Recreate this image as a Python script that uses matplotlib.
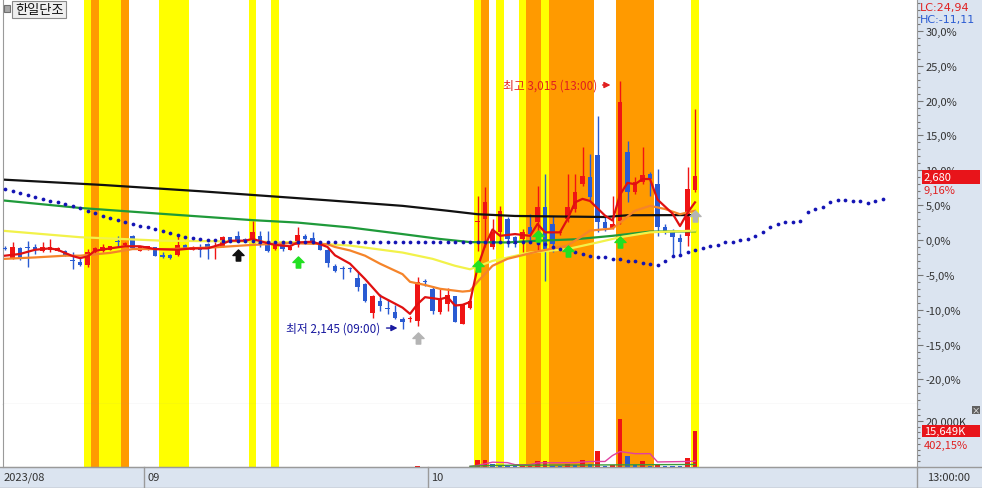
import matplotlib.pyplot as plt
from matplotlib.patches import Rectangle
from matplotlib.lines import Line2D
from matplotlib.path import Path
from matplotlib.ticker import MultipleLocator

plt.rcParams['font.family'] = ['Noto Sans CJK KR', 'DejaVu Sans']

# 캔들 데이터 (기준가 대비 %)
opens = [-1.15, -2.63, -1.20, -1.00, -1.05, -1.53, -1.39, -1.53, -1.53, -2.80,
         -3.11, -3.59, -1.77, -1.53, -1.39, -0.10, -0.72, 0.62, -1.53, -1.39,
         -1.05, -2.10, -2.15, -2.15, -0.72, -1.39, -1.05, -0.57, -1.20, -0.81,
         0.38, 0.62, 0.14, 0.14, 0.53, -0.10, -1.29, -0.57, -1.39, -0.72,
         0.62, 0.24, -0.72, -1.40, -3.68, -4.00, -4.00, -5.50, -6.31, -10.47,
         -8.70, -9.80, -10.28, -11.33, -11.30, -11.57, -5.90, -7.03, -10.38, -9.18,
         -8.08, -12.05, -9.80, 2.60, 3.01, -1.05, 1.10, 3.01, 0.38, 0.14,
         1.82, 2.53, 4.69, 2.30, 1.00, 3.01, 4.45, 8.03, 8.99, 12.20,
         2.53, 1.67, 2.77, 12.58, 6.84, 8.27, 9.47, 8.03, 1.82, 1.10,
         0.24, 0.62, 7.22]
highs = [-0.91, -0.24, -1.05, -0.10, -0.57, -0.33, 0.14, -1.00, -1.40, -1.77,
         -2.49, -1.29, -1.05, -0.57, -0.80, 0.62, -0.30, 0.72, -0.80, -0.80,
         -1.00, -1.77, -2.00, 0.72, -0.60, -0.90, -0.57, -0.50, -0.33, 0.62,
         0.50, 1.34, 0.30, 2.78, 1.34, 1.34, -0.40, -0.33, -0.90, 1.82,
         0.80, 1.10, -0.60, -1.05, -3.50, -3.68, -3.92, -4.64, -6.20, -7.90,
         -7.75, -8.47, -9.33, -11.09, -10.86, -5.36, -5.60, -6.55, -7.03, -6.93,
         -7.99, -9.20, -8.50, 6.36, 7.56, 3.01, 4.93, 3.25, 0.60, 1.58,
         3.73, 7.80, 9.40, 3.49, 1.40, 9.47, 9.47, 13.30, 12.34, 17.84,
         3.49, 6.36, 22.86, 14.25, 8.99, 13.30, 9.80, 10.19, 2.30, 1.58,
         0.86, 10.43, 18.79]
lows = [-1.39, -2.73, -2.90, -3.92, -2.01, -1.77, -1.77, -1.60, -2.35, -4.16,
        -3.68, -3.92, -1.90, -1.77, -1.50, -1.05, -0.80, -1.30, -1.60, -1.50,
        -2.30, -2.63, -2.75, -2.25, -1.30, -1.50, -2.49, -2.73, -2.73, -1.05,
        -0.20, -0.33, -0.20, -0.10, -1.05, -1.77, -1.40, -1.53, -1.50, -1.05,
        0.00, -0.57, -1.50, -3.90, -4.60, -5.60, -4.64, -7.27, -8.94, -11.24,
        -10.14, -10.62, -11.33, -12.77, -11.81, -12.29, -6.55, -10.62, -10.62, -10.14,
        -11.81, -12.10, -9.90, -1.53, -1.05, -1.29, -0.33, -1.05, -1.05, -1.77,
        -0.33, -1.53, -5.90, -1.77, 0.70, 2.53, 3.97, 7.80, 5.64, 1.10,
        1.34, 1.58, 2.30, 5.40, 6.60, 8.03, 6.36, 0.62, 0.86, -2.25,
        -2.01, -0.81, 6.84]
closes = [-1.25, -1.05, -2.73, -1.10, -1.39, -1.05, -1.05, -1.20, -2.25, -2.97,
          -3.59, -1.67, -1.20, -1.05, -0.91, -0.33, -0.43, -1.20, -0.91, -0.91,
          -2.25, -2.40, -2.63, -0.72, -1.20, -1.05, -1.39, -1.29, -0.91, 0.38,
          -0.10, -0.10, -0.10, 1.20, -0.72, -1.53, -0.57, -1.29, -1.05, 0.72,
          0.14, -0.43, -1.39, -3.30, -4.40, -4.10, -4.15, -6.79, -8.70, -8.08,
          -9.42, -9.95, -11.24, -11.81, -11.20, -5.98, -6.05, -10.14, -8.47, -7.89,
          -11.72, -9.33, -8.70, 2.77, 5.40, 1.10, 4.21, 0.14, -0.57, 1.20,
          0.86, 4.69, -1.29, -0.57, 1.10, 4.69, 6.84, 9.13, 6.12, 2.53,
          1.67, 2.30, 19.75, 6.84, 8.27, 9.33, 8.75, 1.82, 1.10, 0.38,
          -0.33, 7.32, 9.16]

# 거래량 (K) - 10월 이전은 거의 0
volumes = [30, 40, 30, 40, 30, 30, 30, 20, 30, 40,
           40, 50, 40, 30, 30, 50, 30, 50, 30, 30,
           30, 40, 30, 50, 30, 20, 30, 30, 30, 40,
           30, 30, 20, 60, 30, 40, 30, 30, 30, 50,
           30, 30, 30, 40, 40, 30, 30, 40, 50, 60,
           40, 30, 40, 50, 40, 300, 40, 50, 40, 40,
           50, 40, 40, 3000, 3000, 1200, 500, 450, 350, 400,
           420, 2600, 2600, 500, 400, 1500, 800, 3000, 1300, 7000,
           600, 1000, 20800, 4800, 1000, 2600, 600, 1000, 500, 450,
           400, 3900, 15649]

# 이동평균선 (읽은 점: 봉 번호, %)
ma_black_x = [0, 13, 26, 43, 53, 59, 63, 68, 80, 83, 92]
ma_black_y = [8.65, 7.9, 7.0, 5.7, 4.9, 4.2, 3.7, 3.45, 3.3, 3.55, 3.58]
ma_green_x = [0, 10, 21, 33, 39, 46, 53, 58, 62, 67, 71, 76, 81, 86, 92]
ma_green_y = [5.65, 4.6, 3.75, 2.85, 2.5, 1.8, 0.85, 0.15, -0.3, -0.35, -0.1, 0.1, 0.6, 1.2, 1.25]
ma_yellow_x = [0, 10, 21, 30, 39, 46, 53, 57, 60, 62, 65, 70, 75, 79, 82, 86, 92]
ma_yellow_y = [1.3, 0.4, -0.1, -0.2, -0.33, -0.8, -1.8, -2.7, -3.7, -4.2, -3.0, -1.8, -1.3, -0.35, 0.4, 1.1, 1.35]
ma_orange_x = [0, 4, 8, 10, 14, 17, 22, 28, 33, 38, 43, 44, 46, 48, 50, 53, 54, 56, 58, 61,
               62, 63, 65, 67, 71, 75, 77, 78, 81, 84, 86, 88, 90, 92]
ma_orange_y = [-2.7, -2.5, -2.25, -2.25, -1.85, -1.3, -1.3, -1.05, -0.7, -0.45, -0.6, -1.0, -1.5, -2.25,
               -3.4, -4.9, -6.0, -6.45, -7.0, -7.4, -7.3, -6.0, -3.7, -2.7, -1.65, -0.8, 0.6, 1.35,
               1.65, 4.2, 4.9, 4.45, 3.7, 4.2]
ma_red_x = [0, 2, 4, 6, 7, 9, 10, 11, 12, 14, 16, 18, 20, 23, 25, 27, 29, 30, 32, 33, 35, 36, 38,
            39, 41, 42, 43, 44, 46, 48, 50, 53, 54, 55, 56, 58, 59, 60, 61, 62, 63, 64, 65, 66,
            68, 70, 71, 72, 74, 75, 76, 77, 78, 80, 81, 82, 83, 84, 85, 86, 87, 89, 90, 91, 92]
ma_red_y = [-2.25, -2.0, -1.4, -1.2, -1.4, -2.3, -2.6, -2.35, -1.55, -1.2, -0.9, -0.9, -1.3, -1.4,
            -1.2, -1.2, -0.55, -0.1, -0.1, 0.15, -0.45, -0.7, -0.9, -0.35, -0.25, -0.6, -1.0, -2.2,
            -3.4, -5.6, -8.0, -9.7, -10.6, -9.2, -8.2, -8.5, -8.2, -9.4, -9.3, -8.9, -4.0, -0.8,
            1.5, 0.6, 0.85, 0.6, 2.3, 1.1, 1.1, 3.0, 5.4, 5.9, 5.6, 3.5, 2.8, 6.5, 8.2, 8.0, 8.75,
            8.75, 5.8, 3.8, 2.0, 3.9, 5.4]
# 선행 이동평균 점선 (0~117)
dots_y = [7.32, 6.98, 6.70, 6.46, 6.12, 5.88, 5.60, 5.40, 5.17, 4.83,
          4.54, 4.21, 3.83, 3.49, 3.16, 2.87, 2.63, 2.30, 2.06, 1.82,
          1.58, 1.24, 1.00, 0.72, 0.48, 0.29, 0.14, 0.05, 0.00, -0.10,
          -0.15, -0.18, -0.20, -0.20, -0.22, -0.22, -0.25, -0.25, -0.27, -0.28,
          -0.30, -0.30, -0.30, -0.32, -0.32, -0.33, -0.33, -0.33, -0.33, -0.33,
          -0.33, -0.33, -0.33, -0.33, -0.33, -0.33, -0.33, -0.33, -0.33, -0.33,
          -0.33, -0.33, -0.33, -0.33, -0.33, -0.33, -0.33, -0.33, -0.33, -0.33,
          -0.33, -0.40, -0.60, -0.95, -1.29, -1.53, -1.77, -2.01, -2.25, -2.40,
          -2.49, -2.73, -2.73, -2.97, -3.06, -3.30, -3.44, -3.59, -2.97, -2.34,
          -2.10, -1.67, -1.39, -1.20, -0.91, -0.72, -0.33, -0.33, 0.05, 0.14,
          0.53, 1.10, 1.82, 2.30, 2.63, 2.63, 2.77, 4.07, 4.45, 4.78,
          5.40, 5.74, 5.74, 5.64, 5.64, 5.31, 5.60, 5.88]

vol_ma_pink_x = [62, 63, 65, 67, 68, 70, 71, 76, 78, 80, 81, 82, 84, 86, 87, 91, 92]
vol_ma_pink_y = [230, 700, 2100, 1900, 1000, 1000, 1800, 1900, 2400, 2400, 5000, 6700, 5800, 5800, 2200, 2400, 2500]
vol_ma_green_x = [62, 65, 70, 80, 86, 92]
vol_ma_green_y = [300, 700, 800, 900, 1000, 1100]

yellow_slots = [11, 13, 14, 15, 21, 22, 23, 24, 33, 36, 63, 66, 69, 72, 92]
orange_slots = [12, 16, 64, 70, 71, 73, 74, 75, 76, 77, 78, 82, 83, 84, 85, 86]

green_arrows_x = [39, 63, 71, 75, 82]
green_arrows_y = [-3.2, -3.8, 0.6, -1.55, -0.35]

pct_ticks = [30, 25, 20, 15, 10, 5, 0, -5, -10, -15, -20]

W, H = 982, 489
RED = '#f01414'
BLUE = '#2a5bd2'
PANEL = '#dbe4f0'


def fx(x):
    return x / W


def fy(y):
    return 1 - y / H


fig = plt.figure(figsize=(W / 100, H / 100), dpi=100)
fig.patch.set_facecolor('white')

# 오른쪽 눈금 패널 / 하단 날짜 영역 배경
fig.add_artist(Rectangle((fx(917), fy(468)), (W - 917) / W, 468 / H, transform=fig.transFigure,
                         fc=PANEL, ec='none', zorder=-1))
fig.add_artist(Rectangle((0, 0), 1, (H - 468) / H, transform=fig.transFigure,
                         fc=PANEL, ec='none', zorder=-1))

ax = fig.add_axes([fx(3), fy(405), (917 - 3) / W, 405 / H])
axv = fig.add_axes([fx(3), fy(468), (917 - 3) / W, (468 - 405) / H])

for a in (ax, axv):
    a.set_xlim(-0.27, 121.6)
    for s in yellow_slots:
        a.axvspan(s - 0.5, s + 0.5, color='#ffff00', lw=0, zorder=0)
    for s in orange_slots:
        a.axvspan(s - 0.5, s + 0.5, color='#ff9a00', lw=0, zorder=0)
    a.set_xticks([])
    for sp in a.spines.values():
        sp.set_color('#9a9a9a')

ax.set_ylim(-23.53, 34.58)
axv.set_ylim(0, 27390)
ax.spines['top'].set_visible(False)
axv.spines['top'].set_visible(False)

# 캔들
for i in range(len(closes)):
    o, c = opens[i], closes[i]
    col = RED if c >= o else BLUE
    ax.vlines(i, lows[i], highs[i], color=col, lw=1, zorder=3)
    lo, h = min(o, c), abs(c - o)
    if h < 0.15:
        lo, h = (o + c) / 2 - 0.075, 0.15
    ax.bar(i, h, bottom=lo, width=0.66, color=col, lw=0, zorder=3)

# 이동평균선
ax.plot(ma_black_x, ma_black_y, color='#111111', lw=1.6, zorder=4)
ax.plot(ma_green_x, ma_green_y, color='#1f9a3a', lw=1.6, zorder=4)
ax.plot(ma_yellow_x, ma_yellow_y, color='#f2f24a', lw=1.6, zorder=4)
ax.plot(ma_orange_x, ma_orange_y, color='#f5842a', lw=1.6, zorder=4)
ax.plot(ma_red_x, ma_red_y, color='#e01010', lw=1.6, zorder=4)
ax.plot(range(len(dots_y)), dots_y, ls='none', marker='o', ms=2.7, mew=0, color='#1414b4', zorder=5)

# 화살표 신호
arrow = Path([(0, 1), (1, 0), (0.4, 0), (0.4, -1), (-0.4, -1), (-0.4, 0), (-1, 0), (0, 1)],
             [Path.MOVETO] + [Path.LINETO] * 6 + [Path.CLOSEPOLY])
ax.plot(green_arrows_x, green_arrows_y, ls='none', marker=arrow, ms=8, color='#22e022', zorder=6)
ax.plot([31], [-2.2], ls='none', marker=arrow, ms=8, color='#111111', zorder=6)
ax.plot([55, 92], [-14.0, 3.5], ls='none', marker=arrow, ms=8, color='#b4b4b4', zorder=6)

# 최고/최저 표시
ax.text(78.9, 22.24, '최고 3,015 (13:00)', color='#e02020', fontsize=8.5, ha='right', va='center', zorder=7)
ax.annotate('', xy=(81.1, 22.24), xytext=(79.3, 22.24),
            arrowprops=dict(arrowstyle='-|>', color='#e02020', lw=1, mutation_scale=9), zorder=7)
ax.text(50.0, -12.63, '최저 2,145 (09:00)', color='#1a1aa0', fontsize=8.5, ha='right', va='center', zorder=7)
ax.annotate('', xy=(52.7, -12.63), xytext=(50.5, -12.63),
            arrowprops=dict(arrowstyle='-|>', color='#1a1aa0', lw=1, mutation_scale=9), zorder=7)

# 오른쪽 % 눈금
ax.yaxis.tick_right()
ax.set_yticks(pct_ticks)
ax.set_yticklabels([f'{v:.1f}%'.replace('.', ',') for v in pct_ticks])
ax.yaxis.set_minor_locator(MultipleLocator(1))
ax.tick_params(axis='y', which='major', length=4, width=0.8, color='#777777', labelsize=8,
               pad=2, labelcolor='#333333')
ax.tick_params(axis='y', which='minor', length=2.5, width=0.8, color='#777777')

# 거래량
vcols = [RED if i == 0 or volumes[i] >= volumes[i - 1] else BLUE for i in range(len(volumes))]
axv.bar(range(len(volumes)), volumes, width=0.66, color=vcols, lw=0, zorder=3)
axv.plot(vol_ma_pink_x, vol_ma_pink_y, color='#e040a0', lw=1, zorder=4)
axv.plot(vol_ma_green_x, vol_ma_green_y, color='#3a9a3a', lw=1, zorder=4)
axv.yaxis.tick_right()
axv.set_yticks([20000])
axv.set_yticklabels(['20,000K'])
axv.yaxis.set_minor_locator(MultipleLocator(2500))
axv.tick_params(axis='y', which='major', length=4, width=0.8, color='#777777', labelsize=8,
                pad=2, labelcolor='#333333')
axv.tick_params(axis='y', which='minor', length=2.5, width=0.8, color='#777777')

# 종목명 박스
fig.add_artist(Rectangle((fx(4), fy(13)), 6 / W, 7 / H, transform=fig.transFigure,
                         fc='#a8a8a8', ec='#707070', lw=0.8, zorder=8))
fig.add_artist(Rectangle((fx(12), fy(19)), 54 / W, 17 / H, transform=fig.transFigure,
                         fc='#efefef', ec='#8a8a8a', lw=0.8, zorder=8))
fig.text(fx(15), fy(10.5), '한일단조', fontsize=9.5, color='#111111', va='center', zorder=9)

# 오른쪽 패널 텍스트
fig.text(fx(920), fy(7.5), 'LC:24,94', fontsize=8, family='DejaVu Sans', color='#e02020',
         va='center', zorder=9)
fig.text(fx(920), fy(19.5), 'HC:-11,11', fontsize=8, family='DejaVu Sans', color='#2a5bd2',
         va='center', zorder=9)
fig.add_artist(Rectangle((fx(922), fy(185)), 58 / W, 14 / H, transform=fig.transFigure,
                         fc='#e8141a', ec='none', zorder=8))
fig.text(fx(924), fy(178), '2,680', fontsize=8, color='white', va='center', zorder=9)
fig.text(fx(924), fy(191), '9,16%', fontsize=8, color='#e02020', va='center', zorder=9)
fig.add_artist(Rectangle((fx(922), fy(438)), 58 / W, 12 / H, transform=fig.transFigure,
                         fc='#e8141a', ec='none', zorder=8))
fig.text(fx(924), fy(432), '15,649K', fontsize=8, color='white', va='center', zorder=9)
fig.text(fx(924), fy(446), '402,15%', fontsize=8, color='#e02020', va='center', zorder=9)
fig.add_artist(Rectangle((fx(972), fy(415)), 8 / W, 8 / H, transform=fig.transFigure,
                         fc='#606060', ec='none', zorder=8))
fig.text(fx(976), fy(411), '×', fontsize=6, color='white', ha='center', va='center', zorder=9)

# 날짜 축
for xs in (144, 428, 917):
    fig.add_artist(Line2D([fx(xs), fx(xs)], [fy(468), fy(489)], color='#9a9a9a', lw=1))
fig.add_artist(Line2D([0, 1], [fy(468), fy(468)], color='#9a9a9a', lw=1))
fig.add_artist(Line2D([0, 1], [fy(488.5), fy(488.5)], color='#9a9a9a', lw=1))
fig.text(fx(4), fy(478), '2023/08', fontsize=8, color='#333333', va='center')
fig.text(fx(147), fy(478), '09', fontsize=8, color='#333333', va='center')
fig.text(fx(431), fy(478), '10', fontsize=8, color='#333333', va='center')
fig.text(fx(927), fy(478), '13:00:00', fontsize=8, color='#333333', va='center')

plt.savefig('out.png', dpi=100)
